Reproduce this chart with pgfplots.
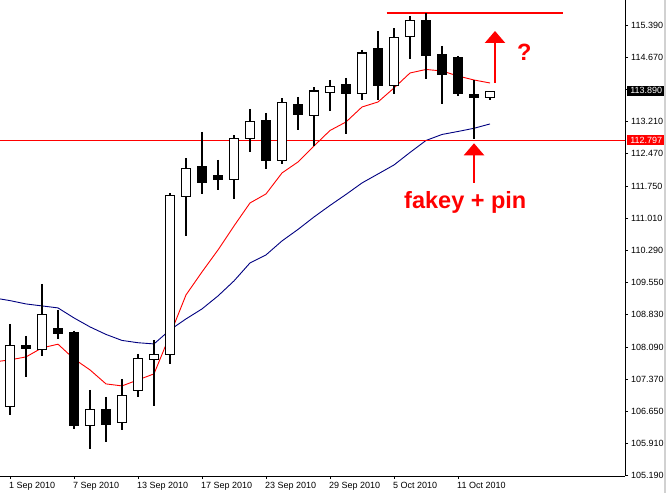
\documentclass[border=0pt]{standalone}
\usepackage{fontspec}
\setmainfont{Liberation Sans}
\usepackage{pgfplots}
\pgfplotsset{compat=1.18}
\usepackage{pgfplotstable}
\usetikzlibrary{arrows.meta}

\definecolor{mtred}{RGB}{255,0,0}
\definecolor{mtnavy}{RGB}{0,0,128}

% daily candles, 1 Sep 2010 .. 13 Oct 2010
\pgfplotstableread{
i O H L C
0 106.775 108.637 106.585 108.155
1 108.155 108.365 107.444 108.078
2 108.064 109.542 107.920 108.856
3 108.539 108.953 108.291 108.426
4 108.449 108.485 106.268 106.336
5 106.345 107.144 105.816 106.707
6 106.707 106.985 105.974 106.368
7 106.413 107.392 106.245 107.024
8 107.137 107.958 106.992 107.861
9 107.838 108.275 106.788 107.951
10 107.951 111.594 107.739 111.548
11 111.517 112.386 110.634 112.159
12 112.189 112.981 111.585 111.834
13 111.985 112.347 111.675 111.901
14 111.910 112.906 111.458 112.838
15 112.838 113.501 112.535 113.223
16 113.245 113.410 112.150 112.331
17 112.336 113.743 112.263 113.652
18 113.591 113.772 113.033 113.372
19 113.349 113.992 112.657 113.908
20 113.879 114.157 113.462 114.014
21 114.044 114.202 112.942 113.847
22 113.856 114.836 113.711 114.768
23 114.858 115.266 113.704 114.028
24 114.037 115.327 113.847 115.123
25 115.146 115.605 114.639 115.508
26 115.492 115.666 114.186 114.707
27 114.723 114.926 113.621 114.277
28 114.655 114.700 113.802 113.847
29 113.833 114.157 112.829 113.757
30 113.757 113.890 113.711 113.890
}\candles

% moving averages (red = fast, blue = slow)
\pgfplotstableread{
i red blue
-1 107.777 109.225
0 107.822 109.164
1 107.890 109.089
2 108.094 109.044
3 108.178 108.999
4 107.845 108.772
5 107.596 108.569
6 107.279 108.399
7 107.234 108.263
8 107.370 108.211
9 107.506 108.184
10 108.388 108.501
11 109.293 108.750
12 109.813 108.976
13 110.311 109.270
14 110.854 109.610
15 111.374 110.017
16 111.578 110.198
17 112.053 110.515
18 112.302 110.775
19 112.664 111.057
20 113.014 111.318
21 113.207 111.567
22 113.546 111.827
23 113.659 112.030
24 113.976 112.234
25 114.315 112.517
26 114.395 112.788
27 114.361 112.924
28 114.247 112.992
29 114.157 113.064
30 114.089 113.162
}\mas

\pgfplotsset{
  mtframe/.style={
    scale only axis, width=625pt, height=476pt,
    at={(0,0)}, anchor=south west,
    xmin=-0.625, xmax=38.4375, ymin=105.195, ymax=115.967,
  },
}

\begin{document}
\begin{tikzpicture}
  % back layer: axes, averages, levels, wicks
  \begin{axis}[mtframe,
      axis x line*=bottom, axis y line*=right,
      axis line style={black, line width=1pt},
      tick align=outside, major tick length=3pt,
      tick style={black, line width=0.8pt},
      xtick={0,4,...,28},
      xticklabels={1 Sep 2010, 7 Sep 2010, 13 Sep 2010, 17 Sep 2010, 23 Sep 2010, 29 Sep 2010, 5 Oct 2010, 11 Oct 2010},
      xticklabel style={font=\fontsize{9}{9}\selectfont, anchor=north west, inner sep=0pt, xshift=-1pt, yshift=-3.5pt},
      ytick={115.401,114.672,113.943,113.215,112.486,111.757,111.028,110.300,109.571,108.842,108.113,107.385,106.656,105.927,105.198},
      yticklabels={115.390,114.670,,113.210,112.470,111.750,111.010,110.290,109.550,108.830,108.090,107.370,106.650,105.910,105.190},
      yticklabel style={font=\fontsize{9}{9}\selectfont, anchor=west, inner sep=0pt, xshift=3pt},
    ]
    \addplot[mtred, line width=0.9pt, mark=none] table[x=i, y=red] {\mas};
    \addplot[mtnavy, line width=0.9pt, mark=none] table[x=i, y=blue] {\mas};
    \addplot[mtred, line width=1pt, mark=none] coordinates {(-1,112.797) (40,112.797)};
    \addplot[mtred, line width=2pt, mark=none] coordinates {(23.54,115.673) (34.56,115.673)};
    \addplot[draw=none, mark=none,
      error bars/.cd, y dir=minus, y explicit, error mark=none,
      error bar style={draw=black, line width=1.1pt}]
      table[x=i, y=H, y error expr=\thisrow{H}-\thisrow{L}] {\candles};
  \end{axis}
  % front layer: candle bodies
  \begin{axis}[mtframe, hide axis, ybar stacked, bar width=9pt]
    \addplot[draw=none, fill=none] table[x=i, y expr={min(\thisrow{O},\thisrow{C})}] {\candles};
    \addplot[draw=black, fill=white, line width=1.1pt] table[x=i, y expr={max(\thisrow{C}-\thisrow{O},0)}] {\candles};
    \addplot[draw=black, fill=black, line width=1.1pt] table[x=i, y expr={max(\thisrow{O}-\thisrow{C},0)}] {\candles};
    % annotations
    \draw[mtred, line width=2.2pt, -{Triangle[width=20pt,length=12pt]}] (axis cs:29,111.827) -- (axis cs:29,112.725);
    \draw[mtred, line width=2.2pt, -{Triangle[width=20pt,length=12pt]}] (axis cs:30.3125,114.096) -- (axis cs:30.3125,115.266);
    \node[text=mtred, font=\fontsize{23.5}{24}\selectfont\bfseries, anchor=base, inner sep=0pt] at (axis cs:28.456,111.254) {fakey + pin};
    \node[text=mtred, font=\fontsize{23.5}{24}\selectfont\bfseries, anchor=base, inner sep=0pt] at (axis cs:32.14,114.587) {?};
  \end{axis}
  % price labels on the scale
  \node[fill=black, text=white, font=\fontsize{9}{9}\selectfont, inner sep=0pt, minimum width=38pt, minimum height=10.5pt, anchor=west] at (627pt,385.1pt) {113.890};
  \node[fill=mtred, text=white, font=\fontsize{9}{9}\selectfont, inner sep=0pt, minimum width=38pt, minimum height=10.5pt, anchor=west] at (627pt,336pt) {112.797};
  \fill[black!18] (664pt,-17pt) rectangle (666pt,476pt);
  \pgfresetboundingbox
  \useasboundingbox (0,-17pt) rectangle (666pt,476pt);
\end{tikzpicture}
\end{document}
